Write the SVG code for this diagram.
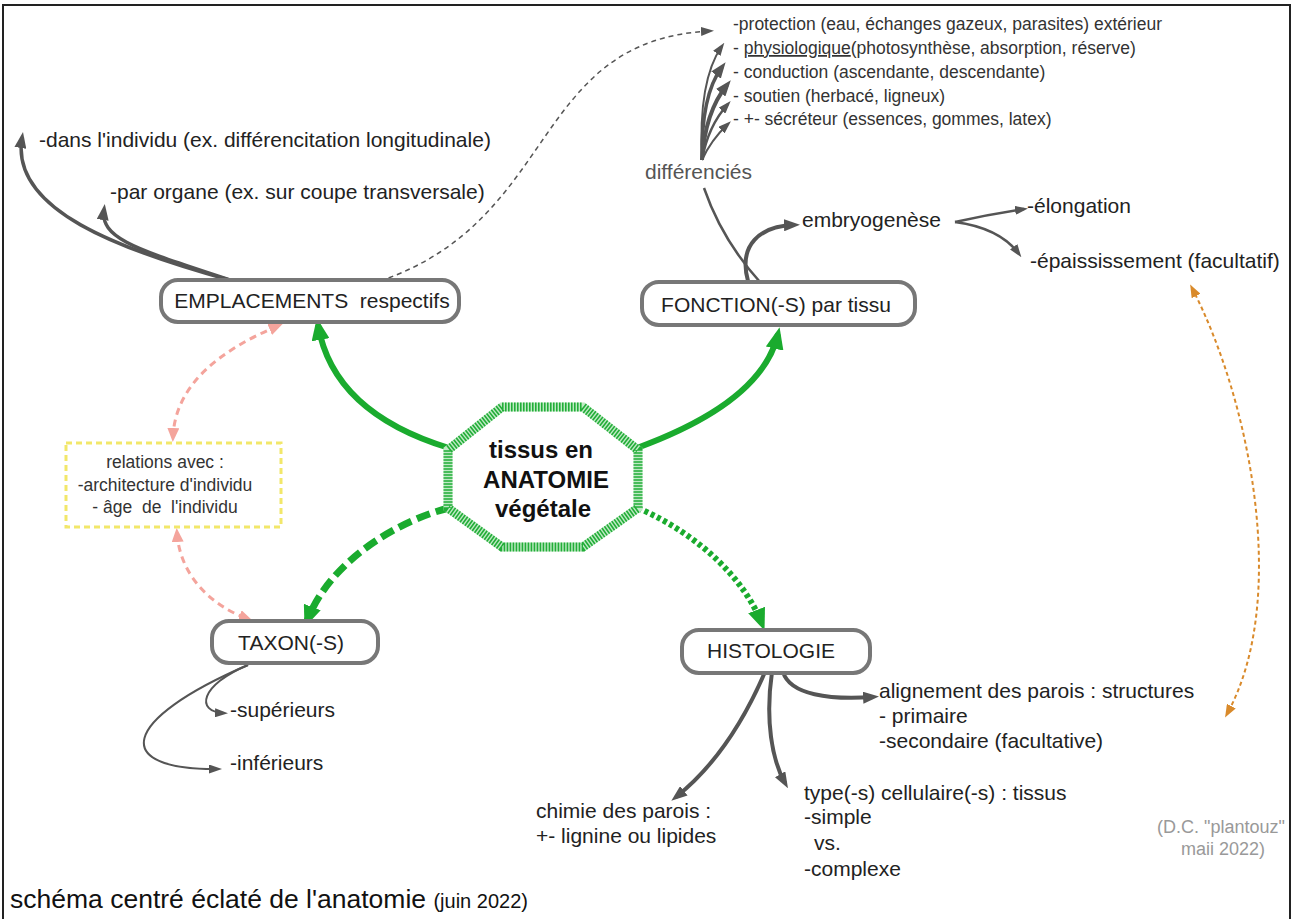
<svg xmlns="http://www.w3.org/2000/svg" width="1293" height="919" viewBox="0 0 1293 919">
<style>
text{font-family:"Liberation Sans",Arial,sans-serif;fill:#222}
.t21{font-size:21px}
.t17{font-size:17.5px;fill:#333}
.node{fill:#fff;stroke:#777;stroke-width:4}
.ctr{font-size:24px;font-weight:bold;fill:#111}
.gl{fill:none;stroke:#1aab2e}
.dk{fill:none;stroke:#555}
.pk{fill:none;stroke:#f4a49c;stroke-width:3;stroke-dasharray:7 5}
</style>
<defs>
<marker id="gA" viewBox="0 0 22 18" refX="15" refY="9" markerWidth="22" markerHeight="18" markerUnits="userSpaceOnUse" orient="auto"><path d="M0,0 L22,9 L0,18 z" fill="#1aab2e"/></marker>
<marker id="dA" viewBox="0 0 16 12" refX="10" refY="6" markerWidth="16" markerHeight="12" markerUnits="userSpaceOnUse" orient="auto"><path d="M0,0 L16,6 L0,12 z" fill="#555"/></marker>
<marker id="sA" viewBox="0 0 13 9" refX="9" refY="4.5" markerWidth="13" markerHeight="9" markerUnits="userSpaceOnUse" orient="auto"><path d="M0,0 L13,4.5 L0,9 z" fill="#555"/></marker>
<marker id="pA" viewBox="0 0 14 12" refX="9" refY="6" markerWidth="14" markerHeight="12" markerUnits="userSpaceOnUse" orient="auto-start-reverse"><path d="M0,0 L14,6 L0,12 z" fill="#f4a49c"/></marker>
<marker id="oA" viewBox="0 0 13 10" refX="9" refY="5" markerWidth="13" markerHeight="10" markerUnits="userSpaceOnUse" orient="auto-start-reverse"><path d="M0,0 L13,5 L0,10 z" fill="#d98a2b"/></marker>
</defs>
<rect x="0" y="0" width="1293" height="919" fill="#fff"/>
<rect x="3" y="5" width="1287" height="940" fill="none" stroke="#222" stroke-width="2"/>

<g id="connectors">
<path class="gl" stroke-width="6" d="M449,448 C 390,430 330,395 318,325" marker-end="url(#gA)"/>
<path class="gl" stroke-width="6" d="M637,448 C 700,425 765,390 778,334" marker-end="url(#gA)"/>
<path class="gl" stroke-width="7" stroke-dasharray="14 6" d="M449,508 C 400,520 330,560 307,621" marker-end="url(#gA)"/>
<path class="gl" stroke-width="6" stroke-dasharray="4 3" d="M638,508 C 700,535 745,580 762,624" marker-end="url(#gA)"/>
<path class="dk" stroke-width="3.5" d="M233,281 C 120,250 10,210 22,138" marker-end="url(#dA)"/>
<path class="dk" stroke-width="3.5" d="M233,281 C 140,250 100,240 104,210" marker-end="url(#dA)"/>
<path class="dk" stroke-width="1.5" stroke-dasharray="5 4" d="M380,281 C 560,220 530,40 710,31" marker-end="url(#sA)"/>
<path class="pk" d="M278,326 C 220,350 175,385 173,437" marker-start="url(#pA)" marker-end="url(#pA)"/>
<path class="pk" d="M177,533 C 180,575 210,605 248,619" marker-start="url(#pA)" marker-end="url(#pA)"/>
<path class="dk" stroke-width="2.5" d="M760,282 Q 722,240 704,188"/>
<path class="dk" stroke-width="4" d="M748,281 C 738,245 760,226 794,225" marker-end="url(#dA)"/>
<path class="dk" stroke-width="2" d="M702,160 Q 698,80 722,46" marker-end="url(#sA)"/>
<path class="dk" stroke-width="3.5" d="M702,160 Q 701,95 722,67" marker-end="url(#dA)"/>
<path class="dk" stroke-width="4" d="M702,160 Q 705,112 727,85" marker-end="url(#dA)"/>
<path class="dk" stroke-width="2.5" d="M702,160 Q 708,126 728,104" marker-end="url(#sA)"/>
<path class="dk" stroke-width="2" d="M702,160 Q 711,140 728,124" marker-end="url(#sA)"/>
<path class="dk" stroke-width="2.5" d="M955,222 Q 990,214 1024,209" marker-end="url(#sA)"/>
<path class="dk" stroke-width="2.5" d="M955,222 Q 1000,228 1019,254" marker-end="url(#sA)"/>
<path fill="none" stroke="#d98a2b" stroke-width="2" stroke-dasharray="4 3" d="M1192,288 C 1250,400 1290,600 1227,714" marker-start="url(#oA)" marker-end="url(#oA)"/>
<path class="dk" stroke-width="2" d="M248,665 C 200,685 195,712 224,713" marker-end="url(#sA)"/>
<path class="dk" stroke-width="2" d="M248,665 C 120,720 110,770 218,769" marker-end="url(#sA)"/>
<path class="dk" stroke-width="4" d="M783,672 C 790,695 830,700 873,697" marker-end="url(#dA)"/>
<path class="dk" stroke-width="4" d="M772,672 C 765,720 772,760 785,783" marker-end="url(#dA)"/>
<path class="dk" stroke-width="4" d="M765,672 C 740,730 710,770 676,797" marker-end="url(#dA)"/>
</g>

<g id="centre">
<polygon points="502,407 583,407 638,450 638,508 583,547 502,547 448,508 448,450" fill="#fff" stroke="#bfeac4" stroke-width="9"/>
<polygon points="502,407 583,407 638,450 638,508 583,547 502,547 448,508 448,450" fill="none" stroke="#22ad38" stroke-width="9" stroke-dasharray="1.6 1.4"/>
<text class="ctr" x="541" y="458" text-anchor="middle">tissus en</text>
<text class="ctr" x="546" y="488" text-anchor="middle">ANATOMIE</text>
<text class="ctr" x="543" y="517" text-anchor="middle">végétale</text>
</g>

<g id="emplacements">
<rect class="node" x="161" y="280" width="298" height="42" rx="17"/>
<text class="t21" x="312" y="308" text-anchor="middle">EMPLACEMENTS&#160; respectifs</text>
</g>
<g id="emplacements-items">
<text class="t21" x="39" y="147">-dans l'individu (ex. différencitation longitudinale)</text>
<text class="t21" x="110" y="199">-par organe (ex. sur coupe transversale)</text>
</g>

<g id="fonction">
<rect class="node" x="642" y="282" width="273" height="43" rx="17"/>
<text class="t21" x="776" y="312" text-anchor="middle">FONCTION(-S) par tissu</text>
</g>
<g id="differencies">
<text class="t21" x="645" y="179" style="fill:#555">différenciés</text>
</g>
<g id="fonctions-list">
<text class="t17" x="733" y="30">-protection (eau, échanges gazeux, parasites) extérieur</text>
<text class="t17" x="733" y="54">- <tspan text-decoration="underline">physiologique</tspan>(photosynthèse, absorption, réserve)</text>
<text class="t17" x="733" y="78">- conduction (ascendante, descendante)</text>
<text class="t17" x="733" y="102">- soutien (herbacé, ligneux)</text>
<text class="t17" x="733" y="125">- +- sécréteur (essences, gommes, latex)</text>
</g>
<g id="embryogenese">
<text class="t21" x="802" y="227">embryogenèse</text>
</g>
<g id="elongation"><text class="t21" x="1027" y="213">-élongation</text></g>
<g id="epaississement"><text class="t21" x="1030" y="268">-épaississement (facultatif)</text></g>

<g id="relations">
<rect x="66" y="443" width="215" height="84" fill="#fff" stroke="#f2e76a" stroke-width="3" stroke-dasharray="6 4"/>
<text class="t17" x="165" y="468" text-anchor="middle">relations avec :</text>
<text class="t17" x="165" y="491" text-anchor="middle">-architecture d'individu</text>
<text class="t17" x="165" y="513" text-anchor="middle">- âge&#160; de&#160; l'individu</text>
</g>

<g id="taxon">
<rect class="node" x="212" y="621" width="166" height="42" rx="17"/>
<text class="t21" x="291" y="650" text-anchor="middle">TAXON(-S)</text>
</g>
<g id="taxon-items">
<text class="t21" x="230" y="717">-supérieurs</text>
<text class="t21" x="230" y="770">-inférieurs</text>
</g>

<g id="histologie">
<rect class="node" x="682" y="630" width="188" height="43" rx="17"/>
<text class="t21" x="771" y="658" text-anchor="middle">HISTOLOGIE</text>
</g>
<g id="alignement">
<text class="t21" x="879" y="698">alignement des parois : structures</text>
<text class="t21" x="879" y="723">- primaire</text>
<text class="t21" x="879" y="748">-secondaire (facultative)</text>
</g>
<g id="types">
<text class="t21" x="804" y="800">type(-s) cellulaire(-s) : tissus</text>
<text class="t21" x="804" y="824">-simple</text>
<text class="t21" x="814" y="850">vs.</text>
<text class="t21" x="804" y="876">-complexe</text>
</g>
<g id="chimie">
<text class="t21" x="536" y="818">chimie des parois :</text>
<text class="t21" x="536" y="843">+- lignine ou lipides</text>
</g>

<g id="credit">
<text x="1221" y="833" text-anchor="middle" style="font-size:18px;fill:#999">(D.C. "plantouz"</text>
<text x="1223" y="855" text-anchor="middle" style="font-size:18px;fill:#999">maii 2022)</text>
</g>
<g id="caption">
<text x="10" y="908" style="font-size:26.5px;fill:#111">schéma centré éclaté de l'anatomie <tspan style="font-size:20px">(juin 2022)</tspan></text>
</g>
</svg>
